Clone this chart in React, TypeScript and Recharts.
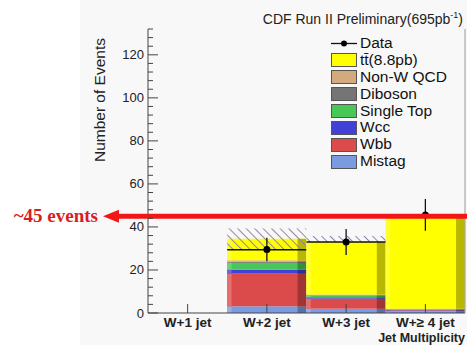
import { ComposedChart, Bar, Line, XAxis, YAxis, ErrorBar, ReferenceLine, Label } from "recharts";

// categories and stacked backgrounds (bottom of stack first)
const categories = ["W+1 jet", "W+2 jet", "W+3 jet", "W+\u2265 4 jet"];
const mistag = [null, 3.1, 2.0, 0.8];
const wbb = [null, 15.2, 4.7, 0.4];
const wcc = [null, 1.9, 0.6, 0.2];
const singleTop = [null, 3.1, 0.6, 0.3];
const diboson = [null, 0.5, 0.3, 0.1];
const nonWQcd = [null, 0.7, 0.4, 0.2];
const ttbar = [null, 10.0, 24.4, 42.7];

// observed data with errors
const dataValues = [null, 29.5, 33.0, 45.6];
const dataErrors = [null, 5.5, 6.0, 7.4];

// hatched uncertainty band
const bandLow = [null, 29.4, 33.0, null];
const bandHigh = [null, 39.3, 35.8, null];

const yMax = 132;
const yMinorStep = 4;
const eventsMark = 45;

const series = [
  { key: "mistag", name: "Mistag", color: "#7b9be0", values: mistag },
  { key: "wbb", name: "Wbb", color: "#dc4b4b", values: wbb },
  { key: "wcc", name: "Wcc", color: "#4141d8", values: wcc },
  { key: "singleTop", name: "Single Top", color: "#47c757", values: singleTop },
  { key: "diboson", name: "Diboson", color: "#757575", values: diboson },
  { key: "nonWQcd", name: "Non-W QCD", color: "#d3a97e", values: nonWQcd },
  { key: "ttbar", name: "t\u0074\u0304(8.8pb)", color: "#ffff00", values: ttbar },
];

const rows = categories.map((cat, i) => {
  const row: any = { cat, data: dataValues[i], err: dataErrors[i] };
  series.forEach((s) => (row[s.key] = s.values[i]));
  row.band = bandLow[i] == null ? null : [bandLow[i], bandHigh[i]];
  return row;
});

const yTicks: number[] = [];
for (let v = 0; v <= yMax; v += yMinorStep) yTicks.push(v);

function shade(hex: string, f: number) {
  const n = parseInt(hex.slice(1), 16);
  const c = [(n >> 16) & 255, (n >> 8) & 255, n & 255].map((v) =>
    Math.round(f < 1 ? v * f : v + (255 - v) * (f - 1))
  );
  return `rgb(${c[0]},${c[1]},${c[2]})`;
}

const ShadedBar = (props: any) => {
  const { x, y, width, height, color } = props;
  if (!height || height <= 0) return null;
  const edge = width * 0.11;
  return (
    <g>
      <rect x={x} y={y} width={width} height={height} fill={color} />
      <rect x={x} y={y} width={edge * 0.5} height={height} fill={shade(color, 1.2)} />
      <rect x={x + width - edge} y={y} width={edge} height={height} fill={shade(color, 0.72)} />
    </g>
  );
};

const HatchBar = (props: any) => {
  const { x, y, width, height } = props;
  if (!height || height <= 0) return null;
  return (
    <g>
      <rect x={x} y={y} width={width} height={height} fill="url(#hatch)" />
      <line x1={x} x2={x + width} y1={y + height} y2={y + height} stroke="#111" strokeWidth={1.3} />
    </g>
  );
};

const YTick = (props: any) => {
  const { x, y, payload } = props;
  const major = payload.value % 20 === 0;
  return (
    <g>
      <line x1={x} x2={x + (major ? 10 : 5)} y1={y} y2={y} stroke="#444" strokeWidth={1} />
      {major && payload.value <= 120 && (
        <text x={x - 4} y={y + 4.5} textAnchor="end" fontSize={13} fill="#222">
          {payload.value}
        </text>
      )}
    </g>
  );
};

const XTick = (props: any) => {
  const { x, y, payload } = props;
  return (
    <g>
      <line x1={x} x2={x} y1={y} y2={y - 9} stroke="#444" strokeWidth={1} />
      <text x={x} y={y + 14} textAnchor="middle" fontSize={13.5} fontWeight="bold" fill="#222">
        {payload.value}
      </text>
    </g>
  );
};

const ArrowShape = (props: any) => {
  const { x1, x2, y1 } = props;
  const y = y1;
  const tip = x1 - 45;
  return (
    <g>
      <line x1={tip + 12} x2={x2 + 2} y1={y} y2={y} stroke="#f21616" strokeWidth={5} />
      <polygon points={`${tip},${y} ${tip + 16},${y - 6.5} ${tip + 16},${y + 6.5}`} fill="#f21616" />
      <text
        x={tip - 5}
        y={y + 6}
        textAnchor="end"
        fontFamily="'Liberation Serif', 'DejaVu Serif', serif"
        fontWeight="bold"
        fontSize={19}
        fill="#d81e1e"
      >
        ~45 events
      </text>
    </g>
  );
};

const YTitle = (props: any) => {
  const vb = props.viewBox;
  const x = vb.x + vb.width - 43;
  const y = vb.y + 9;
  return (
    <text x={x} y={y} transform={`rotate(-90, ${x}, ${y})`} textAnchor="end" fontSize={15.5} fill="#222">
      Number of Events
    </text>
  );
};

const XTitle = (props: any) => {
  const vb = props.viewBox;
  return (
    <text x={vb.x + vb.width} y={vb.y + 28.5} textAnchor="end" fontSize={12.5} fontWeight="bold" fill="#222">
      Jet Multiplicity
    </text>
  );
};

function LegendBox() {
  const entries = [...series].reverse();
  const rowH = 16.9;
  return (
    <div style={{ position: "absolute", left: 331, top: 35, fontSize: 15.5, color: "#111", lineHeight: `${rowH}px` }}>
      <div style={{ display: "flex", alignItems: "center", height: rowH }}>
        <svg width={26} height={13} style={{ marginRight: 3 }}>
          <line x1={0} x2={26} y1={6.5} y2={6.5} stroke="#111" strokeWidth={1.3} />
          <circle cx={13} cy={6.5} r={3} fill="#000" />
        </svg>
        Data
      </div>
      {entries.map((s) => (
        <div key={s.key} style={{ display: "flex", alignItems: "center", height: rowH }}>
          <div
            style={{
              width: 24,
              height: 12,
              background: s.color,
              border: "1px solid #555",
              marginRight: 3,
            }}
          />
          {s.name}
        </div>
      ))}
    </div>
  );
}

export default function App() {
  return (
    <div
      style={{
        position: "absolute",
        left: 0,
        top: 0,
        width: 467,
        height: 345,
        background: "#fff",
        fontFamily: "'Liberation Sans', Arial, sans-serif",
        overflow: "hidden",
      }}
    >
      <div style={{ position: "absolute", left: 80, top: 0, width: 387, height: 345, background: "#f8f8f8" }} />
      <div style={{ position: "absolute", left: 0, top: 0 }}>
        <ComposedChart
          width={467}
          height={345}
          data={rows}
          margin={{ top: 29, right: 0, bottom: 0, left: 0 }}
          barCategoryGap={0}
          barGap={0}
          style={{ fontFamily: "'Liberation Sans', Arial, sans-serif" }}
        >
          <defs>
            <pattern id="hatch" patternUnits="userSpaceOnUse" width={6} height={6} patternTransform="rotate(-45)">
              <line x1={0} y1={0} x2={0} y2={6} stroke="#8e86a8" strokeWidth={2} />
            </pattern>
          </defs>
          <XAxis
            dataKey="cat"
            height={32}
            tickSize={0}
            tickMargin={0}
            tick={<XTick />}
            interval={0}
            axisLine={{ stroke: "#444" }}
          >
            <Label content={<XTitle />} />
          </XAxis>
          <XAxis xAxisId="top" dataKey="cat" orientation="top" height={0} tick={false} tickLine={false} axisLine={{ stroke: "#999" }} />
          <YAxis
            width={148}
            domain={[0, yMax]}
            ticks={yTicks}
            interval={0}
            allowDataOverflow
            tickSize={0}
            tickMargin={0}
            tick={<YTick />}
            axisLine={{ stroke: "#444" }}
          >
            <Label content={<YTitle />} />
          </YAxis>
          <YAxis yAxisId="right" orientation="right" width={2} domain={[0, yMax]} tick={false} tickLine={false} axisLine={{ stroke: "#999" }} />
          {series.map((s) => (
            <Bar
              key={s.key}
              dataKey={s.key}
              stackId="mc"
              fill={s.color}
              isAnimationActive={false}
              shape={(p: any) => <ShadedBar {...p} color={s.color} />}
            />
          ))}
          <Bar dataKey="band" xAxisId="top" isAnimationActive={false} shape={(p: any) => <HatchBar {...p} />} />
          <Line
            dataKey="data"
            stroke="none"
            isAnimationActive={false}
            dot={{ r: 3.5, fill: "#000", stroke: "#000", strokeWidth: 0 }}
            activeDot={false}
          >
            <ErrorBar dataKey="err" width={0} stroke="#111" strokeWidth={1.3} direction="y" />
          </Line>
          <ReferenceLine
            y={eventsMark}
            ifOverflow="visible"
            zIndex={1000}
            shape={(p: any) => <ArrowShape {...p} />}
          />
          <text x={463} y={23.5} textAnchor="end" fontSize={14} fill="#222">
            CDF Run II Preliminary(695pb
            <tspan fontSize={9} dy={-6}>-1</tspan>
            <tspan dy={6}>)</tspan>
          </text>
        </ComposedChart>
      </div>
      <LegendBox />
    </div>
  );
}
